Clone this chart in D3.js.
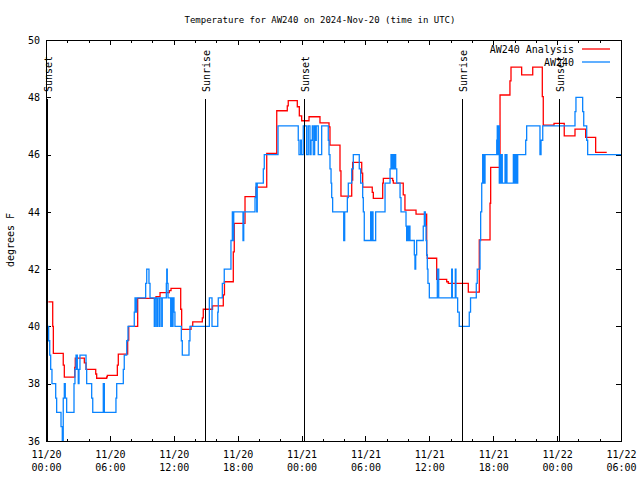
<!DOCTYPE html>
<html><head><meta charset="utf-8">
<script src="https://cdn.jsdelivr.net/npm/d3@7"></script>
<style>
body{margin:0;background:#fff;}
svg{display:block;background:#fff;}
text{font-family:"DejaVu Sans Mono",monospace;font-size:10px;fill:#000;}
</style></head><body>
<svg id="chart" width="640" height="480"></svg>
<script>
// ---------- data ----------
const chartTitle = "Temperature for AW240 on 2024-Nov-20 (time in UTC)";
const yAxisLabel = "degrees F";
const seriesNames = ["AW240 Analysis", "AW240"];
const seriesColors = ["#ff0000", "#0a84ff"];
const startTime = "2024-11-20T00:00:00Z";
const spanHours = 54;
const majorTickHours = [0, 6, 12, 18, 24, 30, 36, 42, 48, 54];
const minorTickStep = 2;
const yTicks = [36, 38, 40, 42, 44, 46, 48, 50];
const yDomain = [36, 50];

// [hours since start, deg F]  (step-after)
const analysis = [
 [0.22,40.86],[0.63,40.00],[0.69,39.06],[1.62,38.65],[1.72,38.23],[2.70,38.57],[2.75,38.89],
 [3.60,38.73],[3.76,38.50],[4.67,38.34],[4.76,38.19],[5.70,38.24],[5.76,38.29],[6.70,38.65],
 [6.79,39.03],[7.67,39.52],[7.77,40.00],[8.61,40.98],[10.33,41.04],[10.71,41.18],[11.58,41.25],
 [11.74,41.33],[12.65,40.60],[12.74,39.90],[13.62,40.00],[13.78,40.16],[14.68,40.30],[14.77,40.60],
 [15.64,40.72],[16.65,41.10],[16.76,41.56],[17.59,42.60],[17.68,43.60],[18.69,44.53],[19.72,44.86],
 [20.73,46.04],[21.67,47.53],[22.66,47.70],[22.75,47.88],[23.60,47.67],[23.79,47.35],[24.01,47.18],
 [24.70,47.32],[25.73,47.11],[26.58,46.97],[26.67,46.33],[27.61,45.43],[27.70,44.55],[28.71,45.11],
 [28.80,45.73],[29.65,45.35],[29.74,44.86],[30.64,44.68],[30.74,44.47],[31.62,45.00],[31.68,45.17],
 [32.56,45.09],[32.62,45.00],[33.55,44.59],[33.71,44.06],[34.75,43.92],[35.75,42.49],[35.81,42.38],
 [36.69,41.64],[37.63,41.56],[37.78,41.50],[39.66,41.20],[40.69,43.02],[41.70,44.30],[41.76,45.55],
 [42.64,48.08],[43.57,48.57],[43.67,49.05],[44.67,48.78],[45.71,49.05],[46.61,48.02],[46.70,47.03],
 [47.71,47.09],[48.67,46.65],[49.68,46.89],[50.68,46.60],[51.62,46.08],[52.66,46.08]
];
const observed = [
 [0.16,40],[0.25,39.5],[0.35,39],[0.44,38.5],[0.56,38],[0.91,37.5],[1.00,37],[1.41,36.5],[1.53,36],
 [1.62,37.5],[1.72,38],[1.81,37.5],[1.94,37],[2.63,38],[2.72,38.5],[2.82,39],[2.94,38.5],[3.03,38],
 [3.10,38.5],[3.19,39],[3.76,38.5],[3.82,38],[4.29,37.5],[4.39,37],[5.38,38],[5.48,37],[6.57,37.5],
 [6.64,38],[7.26,38.5],[7.35,39],[7.58,39.5],[7.70,40],[8.29,40.5],[8.36,41],[8.45,40.5],[8.52,41],
 [9.36,41.5],[9.46,42],[9.67,41.5],[9.77,41],[10.17,40],[10.26,41],[10.40,40],[10.49,41],[10.64,40],
 [10.71,41],[10.87,40],[10.92,41],[11.30,41.5],[11.34,42],[11.39,41.5],[11.46,41],[11.71,40],[11.77,41],
 [11.86,40],[11.93,41],[12.02,40.5],[12.11,40],[12.71,39.5],[12.80,39],[13.43,39.5],[13.52,40],
 [15.34,41],[15.59,40],[16.13,40.5],[16.18,41],[16.56,41.5],[16.74,42],[17.37,43],[17.50,44],[17.56,43],
 [17.63,44],[18.50,43],[18.57,44],[19.63,44.5],[19.72,45],[19.79,44],[19.84,45],[20.41,45.5],[20.50,46],
 [21.79,47],[23.69,46.5],[23.76,46],[23.92,46.5],[23.98,46],[24.16,47],[24.48,46],[24.63,47],[24.79,46],
 [24.89,46.5],[25.01,47],[25.10,46],[25.23,47],[25.33,46.5],[25.38,47],[25.57,46],[25.89,47],[26.51,46.5],
 [26.58,46],[26.67,45.5],[26.77,45],[26.83,44.5],[26.92,44],[27.96,43],[28.05,44],[28.30,44.5],[28.39,45],
 [28.71,45.5],[28.86,46],[29.42,45.5],[29.55,45],[29.74,44.5],[29.80,44],[29.89,43],[30.49,44],[30.55,43],
 [30.64,44],[30.71,43],[30.96,44],[31.84,45],[32.31,45.5],[32.40,46],[32.49,45.5],[32.56,46],[32.68,45.5],
 [32.75,46],[32.84,45.5],[32.94,45],[33.25,44.5],[33.34,44],[33.81,43.5],[33.87,43],[33.93,43.5],[34.00,43],
 [34.06,43.5],[34.18,43],[34.59,42.5],[34.65,42],[34.72,42.5],[34.81,43],[35.43,43.5],[35.53,44],[35.62,43.5],
 [35.69,43],[35.75,42.5],[35.81,42],[35.87,41.5],[36.00,41],[36.75,42],[36.88,41],[38.10,42],[38.16,41],
 [38.44,42],[38.50,41],[38.66,40.5],[38.81,40],[39.75,40.5],[39.87,41],[40.41,41.5],[40.50,42],[40.76,43],
 [40.82,44],[40.92,45],[41.01,46],[41.07,45],[41.13,46],[41.16,45],[41.23,46],[42.33,46.5],[42.38,47],
 [42.45,46],[42.51,47],[42.57,45],[42.64,46],[42.73,45],[42.80,46],[42.85,45],[43.11,46],[43.17,45],
 [43.23,46],[43.29,45],[43.89,46],[43.95,45],[44.05,46],[44.11,45],[44.17,46],[44.23,45],[44.30,46],
 [45.05,46.5],[45.14,47],[46.39,46],[46.49,46.5],[46.65,47],[49.68,47.5],[49.77,48],[50.40,47.5],
 [50.50,47],[50.78,46.5],[50.87,46],[54.00,46]
];
const sunEventNames = ["Sunset", "Sunrise", "Sunset", "Sunrise", "Sunset"];
const sunEventHours = [0.18, 14.97, 24.26, 39.08, 48.21];

// ---------- layout ----------
const W = 640, H = 480;
const m = {left: 46, right: 621, top: 40, bottom: 441};
const svg = d3.select("#chart");
const t0 = new Date(startTime);
const toDate = h => new Date(t0.getTime() + h * 3600e3);

const x = d3.scaleUtc().domain([toDate(0), toDate(spanHours)]).range([m.left, m.right]);
const y = d3.scaleLinear().domain(yDomain).range([m.bottom, m.top]);

const majorDates = majorTickHours.map(toDate);
const minorDates = d3.range(0, spanHours + 0.001, minorTickStep).map(toDate);

// title
svg.append("text").attr("x", 320).attr("y", 23).attr("text-anchor", "middle")
  .style("font-size", "9px").text(chartTitle);

// y label
svg.append("text").attr("transform", "translate(14,240) rotate(-90)")
  .attr("text-anchor", "middle").text(yAxisLabel);

// ticks (inward, mirrored)
function styleAxis(g){ g.select(".domain").remove(); g.selectAll("line").attr("stroke","#000").attr("shape-rendering","crispEdges"); }
svg.append("g").attr("transform", `translate(0,${m.bottom})`)
  .call(d3.axisBottom(x).tickValues(minorDates).tickSize(-2.5).tickFormat(""))
  .call(styleAxis);
svg.append("g").attr("transform", `translate(0,${m.top})`)
  .call(d3.axisTop(x).tickValues(minorDates).tickSize(-2.5).tickFormat(""))
  .call(styleAxis);
svg.append("g").attr("transform", `translate(0,${m.top})`)
  .call(d3.axisTop(x).tickValues(majorDates).tickSize(-5).tickFormat(""))
  .call(styleAxis);
const fmtDay = d3.utcFormat("%m/%d"), fmtTime = d3.utcFormat("%H:%M");
const xb = svg.append("g").attr("transform", `translate(0,${m.bottom})`)
  .call(d3.axisBottom(x).tickValues(majorDates).tickSize(-5).tickPadding(0).tickFormat(""))
  .call(styleAxis);
xb.selectAll(".tick").append("text").attr("text-anchor","middle").attr("fill","#000")
  .each(function(d){
    const t = d3.select(this);
    t.append("tspan").attr("x", 0).attr("y", 17).text(fmtDay(d));
    t.append("tspan").attr("x", 0).attr("y", 30).text(fmtTime(d));
  });
const yl = svg.append("g").attr("transform", `translate(${m.left},0)`)
  .call(d3.axisLeft(y).tickValues(yTicks).tickSize(-5).tickPadding(6).tickFormat(d3.format("d")))
  .call(styleAxis);
yl.selectAll("text").attr("fill","#000").style("font-family",'"DejaVu Sans Mono",monospace').style("font-size","10px");
svg.append("g").attr("transform", `translate(${m.right},0)`)
  .call(d3.axisRight(y).tickValues(yTicks).tickSize(-5).tickFormat(""))
  .call(styleAxis);

// series
const line = d3.line().x(d => x(toDate(d[0]))).y(d => y(d[1])).curve(d3.curveStepAfter);
[analysis, observed].forEach((s, i) => {
  svg.append("path").datum(s).attr("d", line).attr("fill", "none")
    .attr("stroke", seriesColors[i]).attr("stroke-width", 1.3)
    .attr("stroke-linejoin", "miter");
});

// sunrise / sunset markers
sunEventHours.forEach((h, i) => {
  const px = x(toDate(h));
  svg.append("line").attr("x1", px).attr("x2", px).attr("y1", 99).attr("y2", m.bottom)
    .attr("stroke", "#000").attr("stroke-width", 1).attr("shape-rendering", "crispEdges");
  svg.append("text").attr("transform", `translate(${px + 4.5},92) rotate(-90)`)
    .attr("text-anchor", "start").text(sunEventNames[i]);
});

// frame
svg.append("rect").attr("x", m.left).attr("y", m.top)
  .attr("width", m.right - m.left).attr("height", m.bottom - m.top)
  .attr("fill", "none").attr("stroke", "#000").attr("shape-rendering", "crispEdges");

// legend
seriesNames.forEach((n, i) => {
  const ly = 49 + i * 13;
  svg.append("text").attr("x", 574).attr("y", ly + 3.5).attr("text-anchor", "end").text(n);
  svg.append("line").attr("x1", 582).attr("x2", 610).attr("y1", ly).attr("y2", ly)
    .attr("stroke", seriesColors[i]).attr("stroke-width", 1.3);
});
</script>
</body></html>
